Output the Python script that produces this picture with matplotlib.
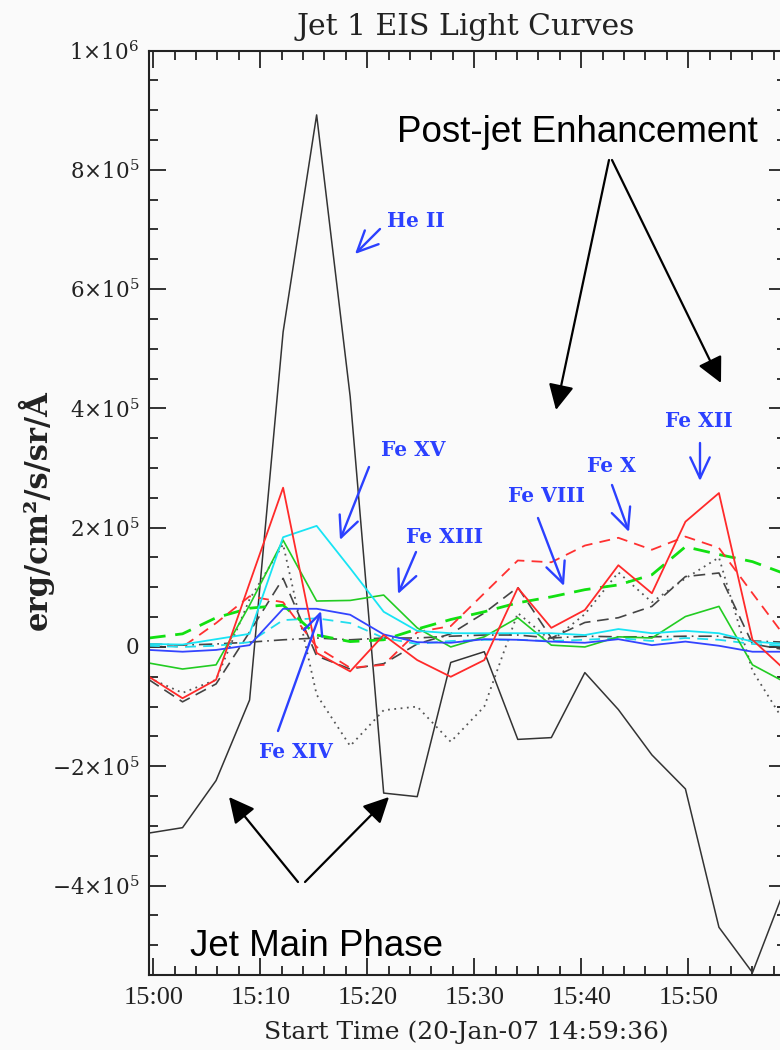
import matplotlib
matplotlib.use("Agg")
import matplotlib.pyplot as plt
import matplotlib.dates as mdates
from matplotlib.ticker import MultipleLocator, FuncFormatter
import pandas as pd

# EIS raster start times (20-Jan-2007)
times = ["14:59:36", "15:02:44", "15:05:52", "15:09:00", "15:12:08",
         "15:15:16", "15:18:24", "15:21:32", "15:24:40", "15:27:48",
         "15:30:56", "15:34:04", "15:37:12", "15:40:20", "15:43:28",
         "15:46:36", "15:49:44", "15:52:52", "15:56:00", "15:59:08"]

# Background-subtracted intensities, units of 1e5 erg/cm^2/s/sr/A
he_ii = [-3.12, -3.03, -2.24, -0.89, 5.28, 8.92, 4.20, -2.45, -2.51, -0.26,
         -0.08, -1.55, -1.52, -0.43, -1.05, -1.81, -2.38, -4.70, -5.46, -4.00]
fe_xii = [-0.50, -0.86, -0.55, 1.07, 2.67, -0.10, -0.41, 0.20, -0.22, -0.50,
          -0.22, 0.99, 0.32, 0.62, 1.37, 0.90, 2.10, 2.58, 0.12, -0.40]
fe_x = [0.05, 0.00, 0.40, 0.85, 0.75, 0.00, -0.35, -0.30, 0.25, 0.35,
        0.90, 1.45, 1.42, 1.70, 1.83, 1.63, 1.85, 1.66, 0.90, 0.15]
fe_xiii = [-0.27, -0.37, -0.30, 0.70, 1.79, 0.77, 0.78, 0.87, 0.32, 0.00,
           0.17, 0.49, 0.03, 0.00, 0.17, 0.15, 0.51, 0.68, -0.30, -0.60]
fe_viii = [0.15, 0.22, 0.49, 0.65, 0.70, 0.20, 0.09, 0.12, 0.30, 0.46,
           0.59, 0.74, 0.84, 0.96, 1.04, 1.21, 1.68, 1.55, 1.43, 1.22]
fe_xv = [0.05, 0.04, 0.13, 0.22, 1.84, 2.03, 1.32, 0.59, 0.27, 0.23,
         0.23, 0.23, 0.23, 0.20, 0.30, 0.23, 0.27, 0.23, 0.09, 0.05]
cyan_dash = [0.02, 0.00, 0.02, 0.08, 0.45, 0.48, 0.40, 0.15, 0.05, 0.10,
             0.12, 0.12, 0.10, 0.12, 0.15, 0.10, 0.15, 0.12, 0.05, 0.02]
fe_xiv = [-0.05, -0.08, -0.05, 0.03, 0.64, 0.64, 0.54, 0.21, 0.08, 0.07,
          0.13, 0.12, 0.09, 0.07, 0.13, 0.03, 0.09, 0.02, -0.08, -0.08]
black_dot = [-0.52, -0.77, -0.55, 0.80, 1.72, -0.80, -1.66, -1.06, -1.00, -1.59,
             -1.00, 0.57, 0.10, 0.55, 1.25, 0.75, 1.15, 1.50, -0.40, -1.30]
black_dash = [-0.55, -0.92, -0.62, 0.25, 1.15, -0.15, -0.37, -0.28, 0.05, 0.22,
              0.57, 1.00, 0.15, 0.41, 0.49, 0.68, 1.18, 1.24, 0.05, -0.05]
black_dashdot = [0.05, 0.03, 0.05, 0.08, 0.12, 0.15, 0.12, 0.15, 0.15, 0.18,
                 0.20, 0.20, 0.15, 0.18, 0.17, 0.17, 0.18, 0.18, 0.10, 0.08]

SCALE = 1e5
t = pd.to_datetime(["2007-01-20 " + s for s in times])

serif = "DejaVu Serif"
tick_serif = "Liberation Serif"
plt.rcParams.update({
    "font.family": tick_serif,
    "mathtext.fontset": "dejavuserif",
    "xtick.labelsize": 19,
    "ytick.labelsize": 15.5,
})

BG = "#fafafa"
W, H = 780, 1050
fig = plt.figure(figsize=(W / 100, H / 100), dpi=100, facecolor=BG)

def fpx(x, y):
    return (x / W, 1 - y / H)

left, right, top, bottom = 149, 786, 50.5, 975
ax = fig.add_axes([left / W, 1 - bottom / H, (right - left) / W, (bottom - top) / H])
ax.set_facecolor(BG)

def sc(v):
    return [x * SCALE for x in v]

ax.plot(t, sc(he_ii), color="#333333", lw=1.1)
ax.plot(t, sc(black_dot), color="#555555", lw=1.3, ls=(0, (1, 2.5)))
ax.plot(t, sc(black_dash), color="#444444", lw=1.2, ls=(0, (7, 4)))
ax.plot(t, sc(black_dashdot), color="#444444", lw=1.2, ls=(0, (8, 3, 1, 3)))
ax.plot(t, sc(fe_viii), color="#11e011", lw=2.0, ls=(0, (6, 3.5)))
ax.plot(t, sc(fe_x), color="#ff3030", lw=1.3, ls=(0, (6, 4)))
ax.plot(t, sc(cyan_dash), color="#22ddee", lw=1.3, ls=(0, (6, 4)))
ax.plot(t, sc(fe_xiii), color="#22cc22", lw=1.2)
ax.plot(t, sc(fe_xv), color="#18e4f4", lw=1.3)
ax.plot(t, sc(fe_xiv), color="#3344ff", lw=1.3)
ax.plot(t, sc(fe_xii), color="#ff2a2a", lw=1.3)

ax.set_xlim(t[0], t[-1])
ax.set_ylim(-5.5e5, 1e6)

ax.xaxis.set_major_locator(mdates.MinuteLocator(byminute=range(0, 60, 10)))
ax.xaxis.set_minor_locator(mdates.MinuteLocator(byminute=range(0, 60, 2)))
ax.xaxis.set_major_formatter(mdates.DateFormatter("%H:%M"))
ax.yaxis.set_major_locator(MultipleLocator(2e5))
ax.yaxis.set_minor_locator(MultipleLocator(5e4))

def yfmt(v, pos):
    if abs(v) < 1:
        return r"$0$"
    if abs(v - 1e6) < 1:
        return r"$1{\times}10^{6}$"
    return r"$%d{\times}10^{5}$" % round(v / 1e5)

ax.yaxis.set_major_formatter(FuncFormatter(yfmt))
ax.tick_params(which="both", direction="in", top=True, right=True, color="#222222", width=1.3)
ax.tick_params(which="major", length=12.5)
ax.tick_params(which="minor", length=6.5)
ax.tick_params(axis="x", which="major", pad=9, labelcolor="#222222")
ax.tick_params(axis="y", which="major", pad=7, labelcolor="#222222")
for sp in ax.spines.values():
    sp.set_linewidth(1.5)
    sp.set_color("#222222")

fig.text(*fpx(466, 27), "Jet 1 EIS Light Curves", ha="center", va="center",
         fontsize=21.5, family=serif, color="#222222")
fig.text(*fpx(466, 1032), "Start Time (20-Jan-07 14:59:36)", ha="center", va="center",
         fontsize=18, family=serif, color="#222222")
fig.text(*fpx(36, 510), "erg/cm²/s/sr/Å", ha="center", va="center", rotation=90,
         fontsize=22, family=serif, weight="bold", color="#222222")

# Black annotations
sans = "Liberation Sans"
fig.text(*fpx(577, 132), "Post-jet Enhancement", ha="center", va="center",
         fontsize=26.5, family=sans, color="black")
fig.text(*fpx(316, 946), "Jet Main Phase", ha="center", va="center",
         fontsize=26.5, family=sans, color="black")

big_head = dict(arrowstyle="-|>,head_length=0.6,head_width=0.3", color="black",
                lw=1.6, mutation_scale=26, shrinkA=0, shrinkB=0)
for tail, tip in [((609, 160), (556, 410)), ((612, 160), (721, 383)),
                  ((298, 882), (229, 797)), ((305, 882), (389, 797))]:
    fig.add_artist(matplotlib.patches.FancyArrowPatch(
        fpx(*tail), fpx(*tip), transform=fig.transFigure, **big_head))

# Blue line identifications
blue = "#2b40ff"
labels = [("He II", (416, 221), (380, 229), (355, 254)),
          ("Fe XV", (413, 450), (369, 467), (340, 540)),
          ("Fe XIII", (444, 537), (416, 552), (398, 594)),
          ("Fe XIV", (296, 752), (278, 731), (321, 611)),
          ("Fe VIII", (546, 496), (538, 518), (564, 586)),
          ("Fe X", (611, 466), (612, 485), (629, 532)),
          ("Fe XII", (699, 421), (700, 443), (700, 481))]
open_head = dict(arrowstyle="->,head_length=0.75,head_width=0.35", color=blue,
                 lw=1.7, mutation_scale=20, shrinkA=0, shrinkB=0)
for text, pos, tail, tip in labels:
    fig.text(*fpx(*pos), text, ha="center", va="center", fontsize=14.5,
             family=serif, weight="bold", color=blue)
    fig.add_artist(matplotlib.patches.FancyArrowPatch(
        fpx(*tail), fpx(*tip), transform=fig.transFigure, **open_head))

fig.savefig("out.png", dpi=100, facecolor=BG)
